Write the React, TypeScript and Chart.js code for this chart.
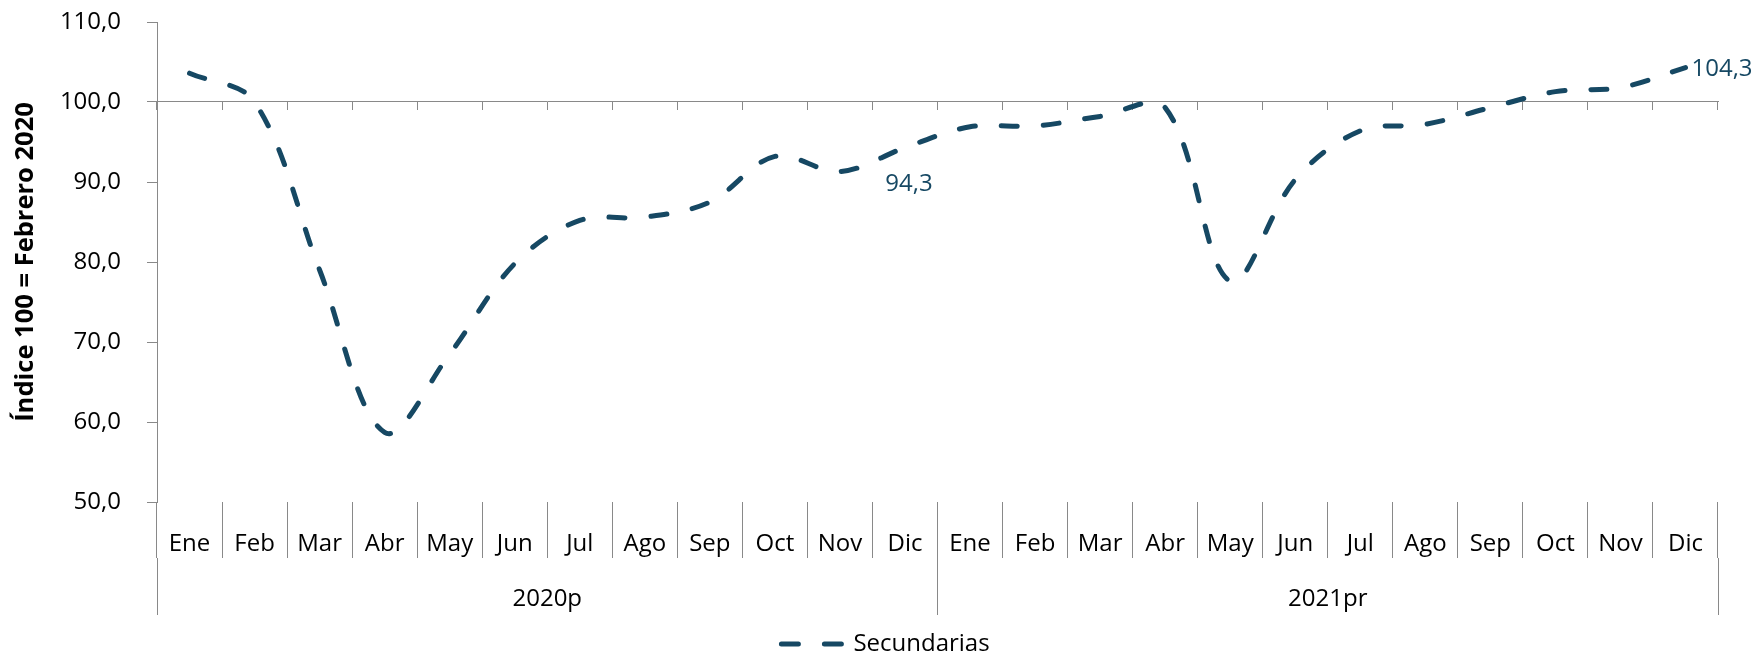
import { useEffect, useRef } from 'react';
import { Chart, registerables } from 'chart.js';

Chart.register(...registerables);

// ---- data ----
const months = ['Ene', 'Feb', 'Mar', 'Abr', 'May', 'Jun', 'Jul', 'Ago', 'Sep', 'Oct', 'Nov', 'Dic',
  'Ene', 'Feb', 'Mar', 'Abr', 'May', 'Jun', 'Jul', 'Ago', 'Sep', 'Oct', 'Nov', 'Dic'];
const years = ['2020p', '2021pr'];
const secundarias = [103.6, 100.0, 79.0, 58.7, 68.5, 79.8, 85.2, 85.6, 87.5, 93.2, 91.3, 94.3,
  96.9, 97.0, 98.2, 99.3, 77.6, 90.3, 96.4, 97.2, 99.3, 101.3, 101.8, 104.3];
const seriesName = 'Secundarias';
const yTitle = 'Índice 100 = Febrero 2020';
const yMin = 50;
const yMax = 110;
const yStep = 10;
const yCross = 100;
const labelBelowIdx = 11;
const labelRightIdx = 23;

// ---- style ----
const LINE = '#164863';
const AXIS = '#898989';
const TEXT = '#000000';
const FONT = "'Open Sans', 'Noto Sans', sans-serif";

const fmt = (v: number) => v.toFixed(1).replace('.', ',');

const valueLabels = {
  id: 'valueLabels',
  afterDatasetsDraw(chart: any) {
    const meta = chart.getDatasetMeta(0);
    const ctx = chart.ctx;
    ctx.save();
    ctx.font = `24px ${FONT}`;
    ctx.fillStyle = LINE;
    ctx.textBaseline = 'middle';
    const a = meta.data[labelBelowIdx];
    ctx.textAlign = 'center';
    ctx.fillText(fmt(secundarias[labelBelowIdx]), a.x + 4, a.y + 37);
    const b = meta.data[labelRightIdx];
    ctx.textAlign = 'left';
    ctx.fillText(fmt(secundarias[labelRightIdx]), b.x + 6, b.y + 2);
    ctx.restore();
  },
};

export default function App() {
  const ref = useRef<HTMLCanvasElement | null>(null);

  useEffect(() => {
    if (!ref.current) return;
    Chart.defaults.font.family = FONT;
    const chart = new Chart(ref.current, {
      type: 'line',
      data: {
        labels: months,
        datasets: [
          {
            label: seriesName,
            data: secundarias,
            borderColor: LINE,
            backgroundColor: LINE,
            borderWidth: 5,
            borderDash: [16, 26],
            borderCapStyle: 'round',
            tension: 0.35,
            pointRadius: 0,
            pointHoverRadius: 0,
            fill: false,
            xAxisID: 'x',
            yAxisID: 'y',
          },
        ],
      },
      plugins: [valueLabels],
      options: {
        animation: false,
        responsive: false,
        devicePixelRatio: 1,
        layout: { padding: { left: 10, right: 0, top: 22, bottom: -14 } },
        plugins: {
          tooltip: { enabled: false },
          legend: {
            position: 'bottom',
            labels: {
              font: { size: 24, family: FONT },
              color: TEXT,
              usePointStyle: true,
              pointStyleWidth: 60,
              padding: 5,
              generateLabels: () => [
                {
                  text: seriesName,
                  fillStyle: LINE,
                  strokeStyle: LINE,
                  lineWidth: 5,
                  lineDash: [17, 26],
                  lineCap: 'round',
                  pointStyle: 'line',
                  fontColor: TEXT,
                  hidden: false,
                  datasetIndex: 0,
                } as any,
              ],
            },
          },
        },
        scales: {
          y: {
            position: 'left',
            min: yMin,
            max: yMax,
            ticks: {
              stepSize: yStep,
              font: { size: 24 },
              color: TEXT,
              padding: 26,
              callback: (v: any) => fmt(Number(v)),
            },
            grid: { drawOnChartArea: false, drawTicks: true, tickLength: 10, color: AXIS },
            border: { display: true, color: AXIS, width: 1 },
            title: {
              display: true,
              text: yTitle,
              font: { size: 25.5, weight: 'bold' },
              color: TEXT,
              padding: { top: 0, bottom: 0 },
            },
            afterFit: (s: any) => { s.width = 147; s.paddingTop = 0; s.paddingBottom = 0; },
          },
          yr: {
            type: 'linear',
            position: 'right',
            display: true,
            ticks: { display: false },
            grid: { display: false },
            border: { display: false },
            afterFit: (s: any) => { s.width = 43; s.paddingTop = 0; s.paddingBottom = 0; },
          },
          x: {
            type: 'category',
            position: { y: yCross } as any,
            offset: true,
            ticks: { display: false },
            grid: { drawOnChartArea: false, drawTicks: true, tickLength: 8, offset: true, color: AXIS },
            border: { display: true, color: AXIS, width: 1 },
          },
          xm: {
            type: 'category',
            position: 'bottom',
            weight: 1,
            offset: true,
            ticks: { font: { size: 24 }, color: TEXT, padding: -28.4, maxRotation: 0, autoSkip: false },
            grid: { drawOnChartArea: false, drawTicks: true, tickLength: 56, offset: true, color: AXIS },
            border: { display: false },
            afterFit: (s: any) => { s.height = 56; s.paddingLeft = 0; s.paddingRight = 0; },
          },
          xy: {
            type: 'category',
            position: 'bottom',
            weight: 2,
            labels: years,
            offset: true,
            ticks: { font: { size: 24 }, color: TEXT, padding: -30.4, maxRotation: 0, autoSkip: false },
            grid: { drawOnChartArea: false, drawTicks: true, tickLength: 57, offset: true, color: AXIS },
            border: { display: false },
            afterFit: (s: any) => { s.height = 69; s.paddingLeft = 0; s.paddingRight = 0; },
          },
        } as any,
      },
    });
    return () => chart.destroy();
  }, []);

  return (
    <div style={{ position: 'absolute', left: 0, top: 0, width: 1761, height: 652 }}>
      <canvas ref={ref} width={1761} height={652} style={{ display: 'block' }} />
    </div>
  );
}
